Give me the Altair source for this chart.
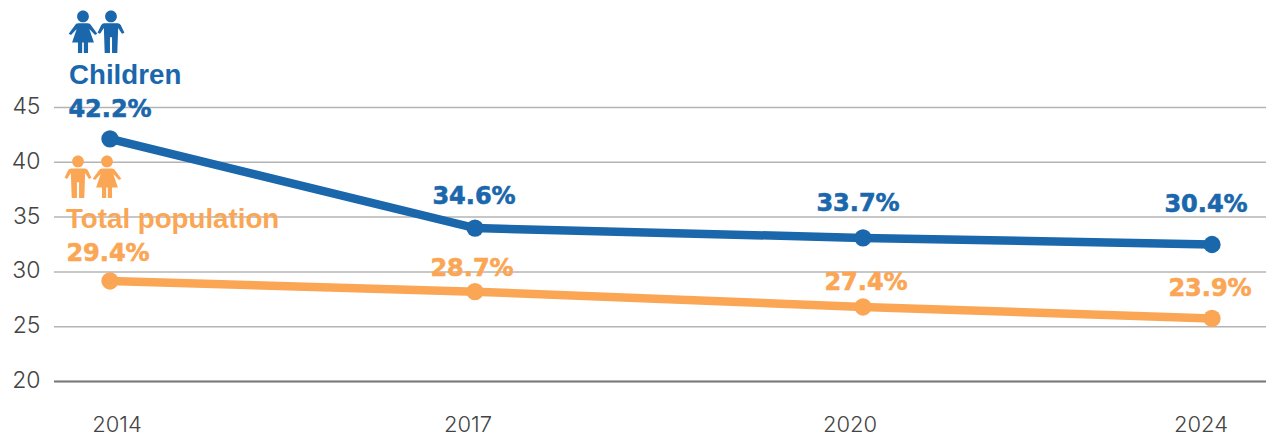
import altair as alt
import pandas as pd

years = [2014, 2017, 2020, 2024]
children = [42.13, 34.0, 33.1, 32.5]
total = [29.17, 28.2, 26.8, 25.75]
children_labels = ["42.2%", "34.6%", "33.7%", "30.4%"]
total_labels = ["29.4%", "28.7%", "27.4%", "23.9%"]
y_ticks = [20, 25, 30, 35, 40, 45]

BLUE = "#1a67ab"
ORANGE = "#fba654"
GREY = "#444444"

x_scale = alt.Scale(domain=years, range=[56, 421, 809, 1158])
y_scale = alt.Scale(domain=[20, 45], nice=False, zero=False)
y_axis = alt.Axis(
    values=y_ticks, title=None, domain=False, ticks=False, grid=False, labelPadding=14,
    labelOffset=-1, labelFont="Inter", labelFontSize=23, labelFontWeight=300, labelColor=GREY)
X = alt.X("year:Q", scale=x_scale, axis=None)
Y = alt.Y("v:Q", scale=y_scale, axis=y_axis)

HEAD = "M-.28,-.74a.28,.28 0 1,0 .56,0a.28,.28 0 1,0 -.56,0Z"
BOY = HEAD + ("M-.32,-.41L.32,-.41Q.42,-.41 .47,-.32L.64,.04L.52,.09L.34,-.19L.3,1L.05,1L.05,.25"
              "L-.05,.25L-.05,1L-.3,1L-.34,-.19L-.52,.09L-.64,.04L-.47,-.32Q-.42,-.41 -.32,-.41Z")
GIRL = HEAD + ("M-.22,-.41L.22,-.41Q.34,-.41 .4,-.3L.68,.08L.57,.14L.3,-.14L.52,.5L.24,.5L.24,1L.04,1L.04,.5"
               "L-.04,.5L-.04,1L-.24,1L-.24,.5L-.52,.5L-.3,-.14L-.57,.14L-.68,.08L-.4,-.3Q-.34,-.41 -.22,-.41Z")

grid = alt.Chart(pd.DataFrame({"v": y_ticks})).mark_rule(color="#b4b4b4", strokeWidth=1.5).encode(y=Y)
base = alt.Chart(pd.DataFrame({"v": [y_ticks[0]]})).mark_rule(color="#7a7a7a", strokeWidth=2).encode(y=Y)

layers = [grid, base]


def series(vals, labels, color, offsets, name, name_dx, name_dy, icons):
    df = pd.DataFrame({"year": years, "v": vals, "label": labels})
    out = [
        alt.Chart(df).mark_line(color=color, strokeWidth=8.5).encode(x=X, y=Y),
        alt.Chart(df).mark_circle(color=color, size=300, opacity=1).encode(x=X, y=Y),
    ]
    for i, (dx, dy) in enumerate(offsets):
        out.append(
            alt.Chart(df.iloc[[i]]).mark_text(
                color=color, font="DejaVu Sans", fontWeight="bold", fontSize=24,
                stroke=color, strokeWidth=0.6,
                dx=dx, dy=dy, align="center", baseline="middle",
            ).encode(x=X, y=Y, text="label:N")
        )
    first = df.iloc[[0]].assign(name=name)
    out.append(
        alt.Chart(first).mark_text(
            color=color, font="Liberation Sans", fontWeight="bold", fontSize=27.7,
            dx=name_dx, dy=name_dy, align="left", baseline="middle",
        ).encode(x=X, y=Y, text="name:N")
    )
    for shape, dx, dy in icons:
        out.append(
            alt.Chart(first).mark_point(
                shape=shape, filled=True, fill=color, stroke=None, opacity=1, size=1764,
                xOffset=dx, yOffset=dy,
            ).encode(x=X, y=Y)
        )
    return out


layers += series(total, total_labels, ORANGE,
                 [(-2, -27), (-3, -23), (3, -24), (-2, -29)],
                 "Total population", -44, -61, [(BOY, -32, -104), (GIRL, -3, -104)])
layers += series(children, children_labels, BLUE,
                 [(0, -29), (-1, -31), (-5, -34), (-6, -40)],
                 "Children", -41, -63, [(GIRL, -27, -107), (BOY, 1, -107)])

for yr, dx in zip(years, [7, -7, -13, -11]):
    layers.append(
        alt.Chart(pd.DataFrame({"year": [yr], "v": [y_ticks[0]], "t": [str(yr)]})).mark_text(
            font="Inter", fontSize=22, fontWeight=300, color=GREY,
            dx=dx, dy=43, align="center", baseline="middle",
        ).encode(x=X, y=Y, text="t:N")
    )

chart = alt.layer(*layers).properties(
    width=1212, height=274,
    padding={"left": 46, "top": 99.5, "right": 0, "bottom": 56},
    autosize=alt.AutoSizeParams(type="none"),
).configure_view(stroke=None)

chart.save("out.html", embed_options={"renderer": "svg", "actions": False})
